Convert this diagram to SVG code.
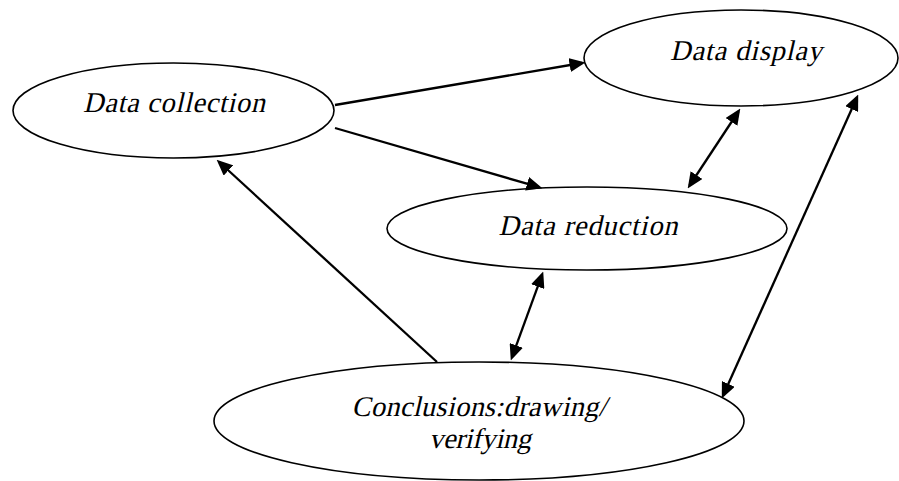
<svg xmlns="http://www.w3.org/2000/svg" width="899" height="481" viewBox="0 0 899 481">
<style>
.node ellipse{fill:#fff;stroke:#000;stroke-width:1.6}
.conn path{fill:none;stroke:#000;stroke-width:2.3}
.lbl{font-family:'Liberation Serif','Times New Roman',serif;font-size:28.5px;fill:#000;text-anchor:middle}
</style>
<defs>
<marker id="ah" markerUnits="userSpaceOnUse" markerWidth="16" markerHeight="14" refX="12.5" refY="7" orient="auto-start-reverse" viewBox="0 0 16 14">
<path d="M0,0 L16,7 L0,14 z" fill="#000"/>
</marker>
</defs>
<rect width="899" height="481" fill="#fff"/>
<g id="collection" class="node">
<ellipse cx="173.5" cy="110.5" rx="160.5" ry="47.5"/>
<text class="lbl" transform="translate(174,112) skewX(-13)" x="0" y="0" textLength="182" lengthAdjust="spacing">Data collection</text>
</g>
<g id="display" class="node">
<ellipse cx="741" cy="58" rx="157" ry="48"/>
<text class="lbl" transform="translate(746,60) skewX(-13)" x="0" y="0" textLength="152" lengthAdjust="spacing">Data display</text>
</g>
<g id="reduction" class="node">
<ellipse cx="587" cy="228.5" rx="200" ry="41.5"/>
<text class="lbl" transform="translate(588,234.5) skewX(-13)" x="0" y="0" textLength="179" lengthAdjust="spacing">Data reduction</text>
</g>
<g id="conclusions" class="node">
<ellipse cx="479" cy="421" rx="265" ry="59"/>
<text class="lbl" transform="translate(479,415.5) skewX(-13)" x="0" y="0" textLength="255" lengthAdjust="spacing">Conclusions:drawing/</text>
<text class="lbl" transform="translate(480,447.5) skewX(-13)" x="0" y="0" textLength="102" lengthAdjust="spacing">verifying</text>
</g>
<g id="connectors" class="conn">
<path d="M335,105 L582,63" marker-end="url(#ah)"/>
<path d="M335,128 L539.1,187.2" marker-end="url(#ah)"/>
<path d="M437,362 L219.2,162" marker-end="url(#ah)"/>
<path d="M542,274.8 L512,357.2" marker-start="url(#ah)" marker-end="url(#ah)"/>
<path d="M738.4,111.5 L689.6,185.5" marker-start="url(#ah)" marker-end="url(#ah)"/>
<path d="M856.8,97.7 L723.2,395.3" marker-start="url(#ah)" marker-end="url(#ah)"/>
</g>
</svg>
